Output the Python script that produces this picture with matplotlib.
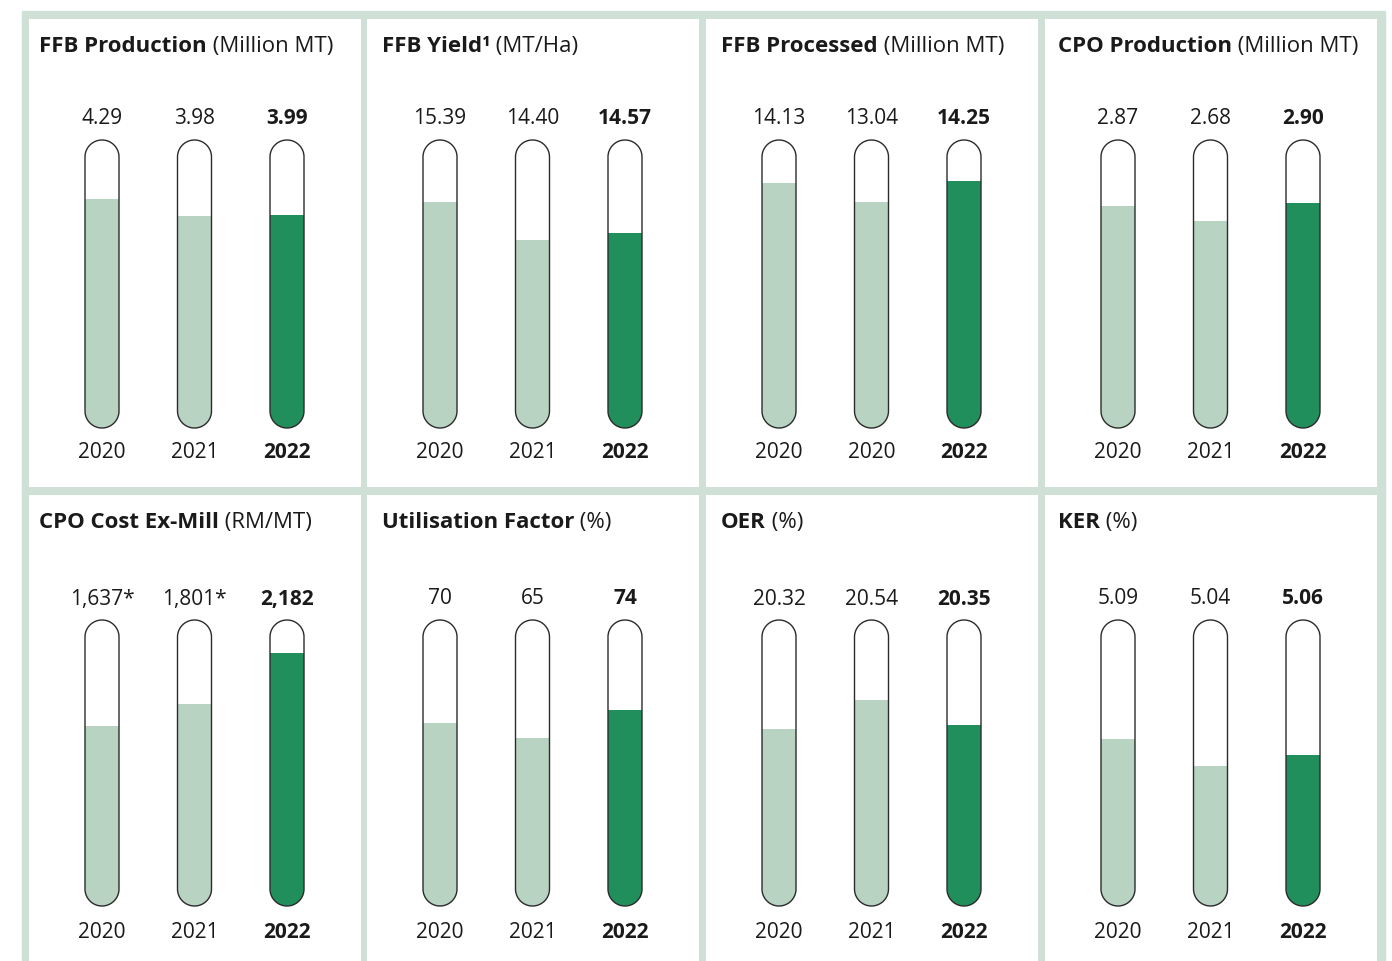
import matplotlib
matplotlib.use("Agg")
import numpy as np
import matplotlib.pyplot as plt
from matplotlib.patches import PathPatch, Rectangle
from matplotlib.path import Path

plt.rcParams.update({"font.family": ["Open Sans", "DejaVu Sans"], "font.size": 15})

BORDER = "#cfe0d6"
LIGHT = "#b8d3c2"
DARK = "#208f5b"
EDGE = "#2b2b2b"
TXT = "#1a1a1a"

# ---- data ----
titles_bold = ["FFB Production", "FFB Yield\u00b9", "FFB Processed", "CPO Production",
               "CPO Cost Ex-Mill", "Utilisation Factor", "OER", "KER"]
titles_unit = ["(Million MT)", "(MT/Ha)", "(Million MT)", "(Million MT)",
               "(RM/MT)", "(%)", "(%)", "(%)"]
values = [
    [4.29, 3.98, 3.99],
    [15.39, 14.40, 14.57],
    [14.13, 13.04, 14.25],
    [2.87, 2.68, 2.90],
    [1637, 1801, 2182],
    [70, 65, 74],
    [20.32, 20.54, 20.35],
    [5.09, 5.04, 5.06],
]
value_labels = [
    ["4.29", "3.98", "3.99"],
    ["15.39", "14.40", "14.57"],
    ["14.13", "13.04", "14.25"],
    ["2.87", "2.68", "2.90"],
    ["1,637*", "1,801*", "2,182"],
    ["70", "65", "74"],
    ["20.32", "20.54", "20.35"],
    ["5.09", "5.04", "5.06"],
]
years = [
    ["2020", "2021", "2022"],
    ["2020", "2021", "2022"],
    ["2020", "2020", "2022"],
    ["2020", "2021", "2022"],
    ["2020", "2021", "2022"],
    ["2020", "2021", "2022"],
    ["2020", "2021", "2022"],
    ["2020", "2021", "2022"],
]
# value range shown by each tube (bottom, top)
tube_range = [(0, 5.4), (9.5, 17.0), (0, 16.6), (0, 3.72),
              (300, 2430), (11, 103), (18.97, 21.15), (4.78, 5.31)]

# ---- layout (pixels) ----
W, H = 1392, 961
fig = plt.figure(figsize=(W / 100, H / 100), dpi=100)
fig.patch.set_facecolor("white")


def fx(px):
    return px / W


def fy(py):
    return 1 - py / H


def tube_path(xc, lo, hi, rx, ry):
    """Capsule outline in data coords (rx, ry = cap radius along x / y)."""
    a = np.linspace(0, np.pi, 60)
    top = np.column_stack([xc + rx * np.cos(a), hi - ry + ry * np.sin(a)])
    bot = np.column_stack([xc - rx * np.cos(a), lo + ry - ry * np.sin(a)])
    verts = np.vstack([top, bot, top[:1]])
    codes = [Path.MOVETO] + [Path.LINETO] * (len(verts) - 2) + [Path.CLOSEPOLY]
    return Path(verts, codes)


fig.add_artist(Rectangle((fx(22), fy(975)), fx(1385) - fx(22), fy(11) - fy(975),
                         transform=fig.transFigure, color=BORDER, zorder=-5))

col_left = [29, 367, 706, 1045]
panel_w = 332
row_top = [19, 495]
row_bot = [487, 975]
tube_top = [140, 620]
tube_bot = [428, 906]
title_dx = [10, 15, 15, 13]
centers_px = [73, 165.5, 258]
unit_px = (centers_px[2] - centers_px[0]) / 2
tube_w = 34 / unit_px
PT = 0.72  # points per pixel

for k in range(8):
    r, c = divmod(k, 4)
    left = col_left[c]
    # white panel
    bg = fig.add_axes([fx(left), fy(row_bot[r]), panel_w / W, (row_bot[r] - row_top[r]) / H])
    bg.set_facecolor("white")
    bg.set_xticks([]); bg.set_yticks([])
    for s in bg.spines.values():
        s.set_visible(False)
    bg.set_xlim(0, panel_w); bg.set_ylim(row_bot[r] - row_top[r], 0)
    t = bg.text(title_dx[c], 33, titles_bold[k], fontsize=16, fontweight="bold",
                color=TXT, va="baseline", ha="left")
    bg.annotate(" " + titles_unit[k], xy=(1, 0), xycoords=t, va="bottom", ha="left",
                fontsize=16, color=TXT)

    # tube axes
    th = tube_bot[r] - tube_top[r]
    ax = fig.add_axes([fx(left), fy(tube_bot[r]), panel_w / W, th / H])
    ax.patch.set_visible(False)
    ax.set_xticks([]); ax.set_yticks([])
    for s in ax.spines.values():
        s.set_visible(False)
    lo, hi = tube_range[k]
    ax.set_xlim(-centers_px[0] / unit_px, (panel_w - centers_px[0]) / unit_px)
    ax.set_ylim(lo, hi)
    rx = tube_w / 2
    ry = rx * unit_px * (hi - lo) / th

    for i, v in enumerate(values[k]):
        shape = tube_path(i, lo, hi, rx, ry)
        clip = PathPatch(shape, transform=ax.transData)
        color = DARK if i == 2 else LIGHT
        bars = ax.bar([i], [v - lo], bottom=lo, width=tube_w, color=color, zorder=2)
        for b in bars:
            b.set_clip_path(clip)
        ax.add_patch(PathPatch(shape, facecolor="none", edgecolor=EDGE, lw=1.0,
                               zorder=3, clip_on=False))
        weight = "bold" if i == 2 else "normal"
        ax.annotate(value_labels[k][i], (i, hi), xytext=(0, 21 * PT), textcoords="offset points",
                    ha="center", va="center", fontsize=15, fontweight=weight, color=TXT,
                    annotation_clip=False)
        ax.annotate(years[k][i], (i, lo), xytext=(0, -(25 + r) * PT), textcoords="offset points",
                    ha="center", va="center", fontsize=15, fontweight=weight, color=TXT,
                    annotation_clip=False)

fig.savefig("out.png", dpi=100, facecolor=fig.get_facecolor())
